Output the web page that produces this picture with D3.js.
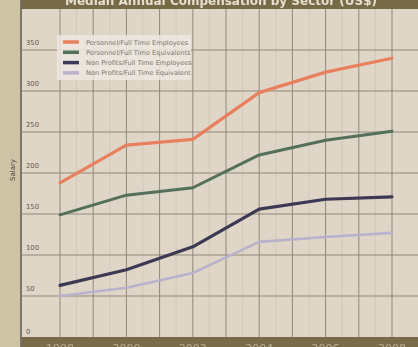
<!DOCTYPE html>
<html><head><meta charset="utf-8">
<script src="https://cdn.jsdelivr.net/npm/d3@7"></script>
<style>
html,body{margin:0;padding:0;background:#cfc3a6;}
svg{display:block;filter:blur(0.7px);}
</style></head>
<body>
<svg id="c" width="418" height="347"></svg>
<script>
const years = ["1998","2000","2002","2004","2006","2008"];
const seriesNames = ["Personnel/Full Time Employees","Personnel/Full Time Equivalents","Non Profits/Full Time Employees","Non Profits/Full Time Equivalent"];
const personnelFTE = [188, 234, 241, 298, 323, 340];
const personnelEquiv = [149, 173, 182, 222, 240, 251];
const nonProfitFTE = [63, 82, 110, 156, 168, 171];
const nonProfitEquiv = [50, 60, 78, 116, 122, 127];
const yTicks = [0, 50, 100, 150, 200, 250, 300, 350];
const colors = ["#e8805e","#53705a","#3b3953","#b9b2cc"];
const title = "Median Annual Compensation by Sector (US$)";
const yTitle = "Salary";

const svg = d3.select("#c");
const W = 418, H = 347;
const plotLeft = 21, plotTop = 9, plotBottom = 337;

// plot background
svg.append("rect").attr("x", plotLeft).attr("y", plotTop).attr("width", W-plotLeft).attr("height", plotBottom-plotTop).attr("fill","#dfd6c8");

const x = d3.scalePoint().domain(years).range([60, 392]);
const y = d3.scaleLinear().domain([0, 350]).range([337, 50]);

// vertical grid (half steps)
const step = x.step()/2;
const vlines = d3.range(0, 11).map(i => 60 + i*step);
svg.append("g").selectAll("line").data(vlines.slice(0,10).map(d=>d+step/2)).join("line")
  .attr("x1", d=>d).attr("x2", d=>d).attr("y1", plotTop).attr("y2", plotBottom)
  .attr("stroke","#d2c9b9").attr("stroke-width",1);
svg.append("g").selectAll("line").data(vlines).join("line")
  .attr("x1", d=>d).attr("x2", d=>d).attr("y1", plotTop).attr("y2", plotBottom)
  .attr("stroke","#908878").attr("stroke-width",1);

// horizontal grid
svg.append("g").selectAll("line").data(yTicks.slice(1)).join("line")
  .attr("x1", plotLeft).attr("x2", W).attr("y1", d=>y(d)).attr("y2", d=>y(d))
  .attr("stroke","#908878").attr("stroke-width",1);

// y tick labels
svg.append("g").selectAll("text").data(yTicks).join("text")
  .attr("x", 26).attr("y", d=> d===0 ? y(d)-3 : y(d)-5)
  .attr("font-family","DejaVu Sans, sans-serif").attr("font-size",6.8).attr("fill","#5f594f")
  .text(d=>d);

// left axis line
svg.append("line").attr("x1", plotLeft).attr("x2", plotLeft).attr("y1", 0).attr("y2", H).attr("stroke","#7d776b").attr("stroke-width",2);

// y title
svg.append("text").attr("transform","translate(15,170) rotate(-90)").attr("text-anchor","middle")
  .attr("font-family","DejaVu Sans, sans-serif").attr("font-size",7).attr("fill","#4a463e").text(yTitle);

// lines
const data = [personnelFTE, personnelEquiv, nonProfitFTE, nonProfitEquiv];
const line = d3.line().x((d,i)=>x(years[i])).y(d=>y(d));
const widths = [3.2, 3, 3.2, 2.6];
svg.append("g").selectAll("path").data(data).join("path")
  .attr("d", line).attr("fill","none")
  .attr("stroke",(d,i)=>colors[i]).attr("stroke-width",(d,i)=>widths[i])
  .attr("stroke-linejoin","round").attr("stroke-linecap","round");

// legend
const lg = svg.append("g").attr("transform","translate(57,35)");
lg.append("rect").attr("width",134).attr("height",45).attr("fill","#ede8e0").attr("opacity",0.85);
const li = lg.selectAll("g").data(seriesNames).join("g").attr("transform",(d,i)=>`translate(0,${7+i*10.3})`);
li.append("line").attr("x1",6).attr("x2",22).attr("y1",0).attr("y2",0)
  .attr("stroke",(d,i)=>colors[i]).attr("stroke-width",3.5);
li.append("text").attr("x",29).attr("y",2.5).attr("font-family","DejaVu Sans, sans-serif")
  .attr("font-size",6.6).attr("fill","#7a746c").text(d=>d);

// top title bar
svg.append("rect").attr("x", plotLeft).attr("y", 0).attr("width", W-plotLeft).attr("height", plotTop).attr("fill","#776a47");
svg.append("text").attr("x", 221).attr("y", 4.5).attr("text-anchor","middle")
  .attr("font-family","DejaVu Sans, sans-serif").attr("font-weight","bold").attr("font-size",12)
  .attr("fill","#e6dfcf").text(title);

// bottom bar with x labels
svg.append("rect").attr("x", plotLeft).attr("y", plotBottom).attr("width", W-plotLeft).attr("height", H-plotBottom).attr("fill","#7a6c48");
svg.append("g").selectAll("text").data(years).join("text")
  .attr("x", d=>x(d)).attr("y", 352).attr("text-anchor","middle")
  .attr("font-family","DejaVu Sans, sans-serif").attr("font-size",11).attr("fill","#b9ae94").text(d=>d);
</script>
</body></html>
